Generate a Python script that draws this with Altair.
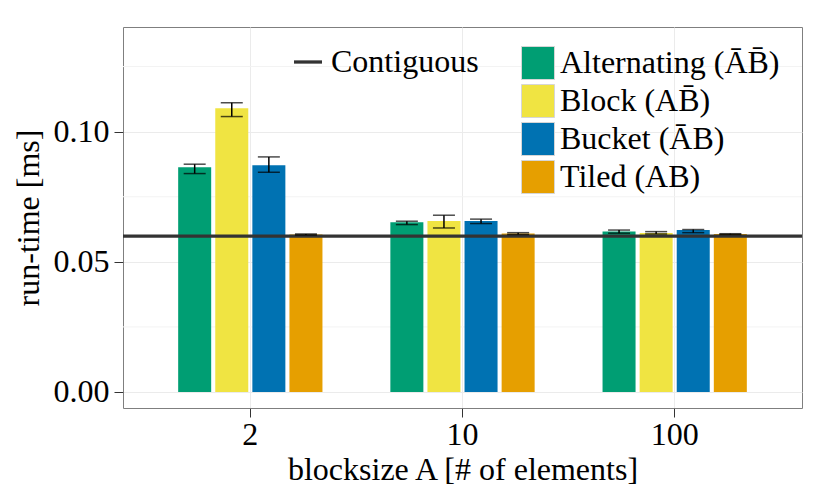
import altair as alt
import pandas as pd

blocksizes = ["2", "10", "100"]
layouts = ["Alternating (ĀB̄)", "Block (AB̄)", "Bucket (ĀB)", "Tiled (AB)"]
colors = ["#009E73", "#F0E442", "#0072B2", "#E69F00"]

alt_mean = [0.0863, 0.0652, 0.0616]
alt_lo = [0.0839, 0.0643, 0.0610]
alt_hi = [0.0875, 0.0656, 0.0622]

block_mean = [0.1090, 0.0657, 0.0611]
block_lo = [0.1058, 0.0630, 0.0607]
block_hi = [0.1111, 0.0679, 0.0616]

bucket_mean = [0.0871, 0.0657, 0.0622]
bucket_lo = [0.0844, 0.0647, 0.0612]
bucket_hi = [0.0903, 0.0664, 0.0624]

tiled_mean = [0.0605, 0.0609, 0.0607]
tiled_lo = [0.0603, 0.0605, 0.0605]
tiled_hi = [0.0607, 0.0612, 0.0608]

contiguous_label = ["Contiguous"]
contiguous_value = [0.0599]

y_ticks = [0.0, 0.05, 0.10]
y_minor = [0.025, 0.075, 0.125]

series = [
    (alt_mean, alt_lo, alt_hi),
    (block_mean, block_lo, block_hi),
    (bucket_mean, bucket_lo, bucket_hi),
    (tiled_mean, tiled_lo, tiled_hi),
]
rows = []
for name, (m, lo, hi) in zip(layouts, series):
    for b, mv, lv, hv in zip(blocksizes, m, lo, hi):
        rows.append({"blocksize": b, "layout": name, "value": mv, "lo": lv, "hi": hv})
df = pd.DataFrame(rows)
cont = pd.DataFrame({"label": contiguous_label, "value": contiguous_value})
minor = pd.DataFrame({"v": y_minor})

FONT = "Liberation Serif"
FS = 32

xscale = alt.Scale(domain=blocksizes, paddingInner=0.32, paddingOuter=0.26)
yscale = alt.Scale(domain=[-0.00615, 0.1402], nice=False, zero=False)
offscale = alt.Scale(domain=layouts, paddingInner=0.11, paddingOuter=0)

x_enc = alt.X("blocksize:N", scale=xscale, sort=blocksizes,
              axis=alt.Axis(title="blocksize A [# of elements]", labelAngle=0,
                            grid=True, bandPosition=0.5, gridColor="#EBEBEB",
                            domain=False, tickColor="#333333", tickSize=9,
                            labelPadding=2, titlePadding=4))
y_axis = alt.Axis(title="run-time [ms]", values=y_ticks, format=".2f",
                  grid=True, gridColor="#EBEBEB", domain=False,
                  tickColor="#333333", tickSize=9, labelPadding=5,
                  titlePadding=8)

minor_layer = alt.Chart(minor).mark_rule(color="#F3F3F3", strokeWidth=1).encode(
    y=alt.Y("v:Q", scale=yscale, axis=y_axis)
)

bars = alt.Chart(df).mark_bar().encode(
    x=x_enc,
    xOffset=alt.XOffset("layout:N", scale=offscale, sort=layouts),
    y=alt.Y("value:Q", scale=yscale, axis=y_axis),
    fill=alt.Fill("layout:N", sort=layouts,
                  scale=alt.Scale(domain=layouts, range=colors),
                  legend=alt.Legend(title=None, orient="none", legendX=398, legendY=19,
                                    symbolType="square", symbolSize=1089,
                                    symbolStrokeColor="#d6d6d6", symbolStrokeWidth=1,
                                    labelFont=FONT, labelFontSize=FS, labelColor="black",
                                    labelLimit=500,
                                    labelOffset=5, rowPadding=0, padding=0)),
)

line = alt.Chart(cont).mark_rule(strokeWidth=3.3).encode(
    y=alt.Y("value:Q", scale=yscale),
    stroke=alt.Stroke("label:N", scale=alt.Scale(range=["#333333"]),
                      legend=alt.Legend(title=None, orient="none", legendX=169, legendY=19,
                                        symbolType="stroke", symbolSize=784,
                                        symbolStrokeWidth=3.3,
                                        labelFont=FONT, labelFontSize=FS, labelColor="black",
                                        labelLimit=500,
                                        labelOffset=7, padding=0)),
)

err = alt.Chart(df).mark_rule(color="black", strokeWidth=1.5).encode(
    x=alt.X("blocksize:N", scale=xscale, sort=blocksizes),
    xOffset=alt.XOffset("layout:N", scale=offscale, sort=layouts),
    y=alt.Y("lo:Q", scale=yscale),
    y2="hi:Q",
)
cap_hi = alt.Chart(df).mark_tick(color="black", thickness=1.5, size=22).encode(
    x=alt.X("blocksize:N", scale=xscale, sort=blocksizes),
    xOffset=alt.XOffset("layout:N", scale=offscale, sort=layouts),
    y=alt.Y("hi:Q", scale=yscale),
)
cap_lo = alt.Chart(df).mark_tick(color="black", thickness=1.5, size=22).encode(
    x=alt.X("blocksize:N", scale=xscale, sort=blocksizes),
    xOffset=alt.XOffset("layout:N", scale=offscale, sort=layouts),
    y=alt.Y("lo:Q", scale=yscale),
)

chart = alt.layer(minor_layer, bars, line, err, cap_hi, cap_lo).properties(
    width=679, height=381,
    background="white",
    autosize=alt.AutoSizeParams(type="none"),
    padding={"left": 115, "top": 19, "right": 20, "bottom": 82},
).configure_view(
    stroke="#7F7F7F", strokeWidth=1
).configure_axis(
    labelFont=FONT, labelFontSize=FS, labelColor="black",
    titleFont=FONT, titleFontSize=FS, titleColor="black", titleFontWeight="normal",
)

chart.save("out.html", embed_options={"renderer": "svg", "actions": False})
